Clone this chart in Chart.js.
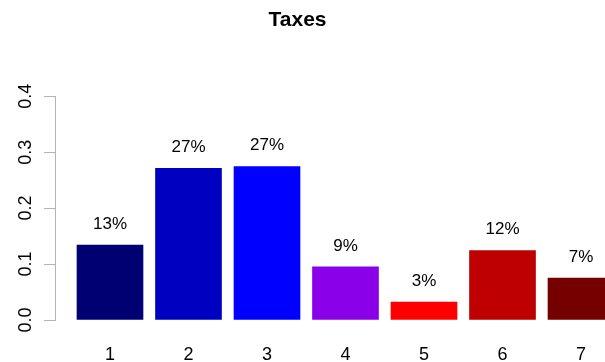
<!DOCTYPE html>
<html>
<head>
<meta charset="utf-8">
<script src="https://cdn.jsdelivr.net/npm/chart.js@4"></script>
<style>
  html, body { margin: 0; padding: 0; background: #fff; }
  #wrap { width: 605px; height: 362px; }
</style>
</head>
<body>
<div id="wrap"><canvas id="taxChart" width="605" height="362"></canvas></div>
<script>
// bar positions 1..7, share of taxes
const positions = [1, 2, 3, 4, 5, 6, 7];
const shares = [0.134, 0.271, 0.274, 0.095, 0.032, 0.124, 0.075];
const pctLabels = ['13%', '27%', '27%', '9%', '3%', '12%', '7%'];
const barColors = ['#000073', '#0000C0', '#0000FF', '#8A00E8', '#FF0000', '#BF0000', '#750000'];
const yTicks = [0, 0.1, 0.2, 0.3, 0.4];

const FONT = '"Liberation Sans", Arial, Helvetica, sans-serif';

// percentage text above every bar
const pctPlugin = {
    id: 'pctLabels',
    afterDatasetsDraw(chart) {
        const ctx = chart.ctx;
        const meta = chart.getDatasetMeta(0);
        ctx.save();
        ctx.font = '17px ' + FONT;
        ctx.fillStyle = '#000';
        ctx.textAlign = 'center';
        ctx.textBaseline = 'middle';
        meta.data.forEach((bar, i) => {
            ctx.fillText(pctLabels[i], bar.x, bar.y - 21);
        });
        ctx.restore();
    }
};

const ctx = document.getElementById('taxChart').getContext('2d');
new Chart(ctx, {
    type: 'bar',
    data: {
        datasets: [{
            data: positions.map((p, i) => ({ x: p, y: shares[i] })),
            backgroundColor: barColors,
            borderWidth: 0,
            barThickness: 66,
            clip: false
        }]
    },
    options: {
        responsive: false,
        animation: false,
        layout: { padding: { left: 0, right: 10, top: 0, bottom: 0 } },
        plugins: {
            legend: { display: false },
            tooltip: { enabled: false },
            title: {
                display: true,
                text: 'Taxes',
                color: '#000',
                font: { family: FONT, size: 21, weight: 'bold' },
                padding: { top: 8, bottom: 63 }
            }
        },
        scales: {
            x: {
                type: 'linear',
                offset: false,
                min: 0.2994,
                max: 7.1783,
                grid: { display: false, drawTicks: false },
                border: { display: false },
                ticks: {
                    color: '#000',
                    font: { family: FONT, size: 18 },
                    padding: 24,
                    autoSkip: false,
                    maxRotation: 0
                },
                afterBuildTicks(scale) {
                    scale.ticks = positions.map(v => ({ value: v }));
                },
                afterFit(scale) {
                    scale.height = 42;
                    scale.paddingLeft = 0;
                    scale.paddingRight = 0;
                }
            },
            y: {
                min: 0,
                max: 0.4,
                grid: {
                    drawOnChartArea: false,
                    drawTicks: true,
                    tickLength: 11,
                    color: '#b4b4b4'
                },
                border: { display: true, color: '#b4b4b4' },
                ticks: {
                    color: '#000',
                    font: { family: FONT, size: 18 },
                    minRotation: 90,
                    maxRotation: 90,
                    crossAlign: 'center',
                    padding: 5,
                    callback: v => v.toFixed(1)
                },
                afterBuildTicks(scale) {
                    scale.ticks = yTicks.map(v => ({ value: v }));
                },
                afterFit(scale) {
                    scale.width = 55;
                    scale.paddingTop = 0;
                    scale.paddingBottom = 0;
                }
            }
        }
    },
    plugins: [pctPlugin]
});
</script>
</body>
</html>
